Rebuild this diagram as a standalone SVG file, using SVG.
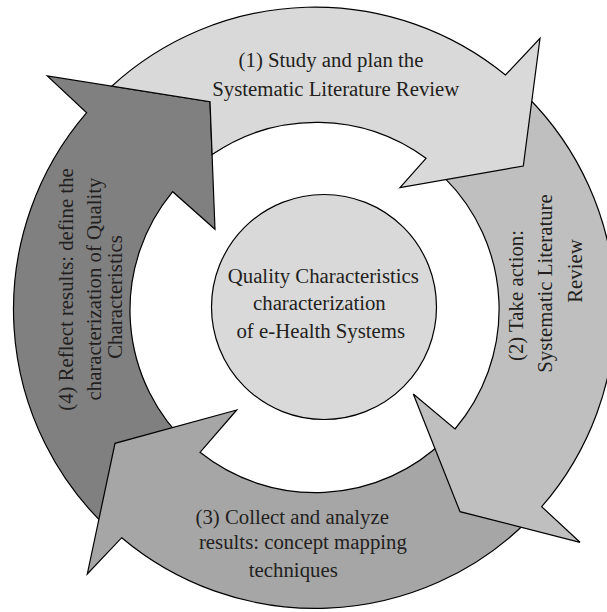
<svg xmlns="http://www.w3.org/2000/svg" width="607" height="612" viewBox="0 0 607 612">
<style>
.arrow{stroke:#000;stroke-width:1.2;stroke-linejoin:miter}
.t{font-family:"Liberation Serif","Times New Roman",serif;font-size:20.8px;fill:#231f20;text-anchor:middle}
</style>
<rect width="607" height="612" fill="#fff"/>
<g id="connectors">
<g id="arrow4">
<path class="arrow" fill="#808080" d="M112.6,532.7 A301,301 0 0,1 86.7,112.7 L47.3,76 L210,101.7 L215,229.3 L172.7,191.7 A185,185 0 0,0 190.2,446.5 Z"/>
<text class="t" transform="translate(72.5,289.5) rotate(-90)">(4) Reflect results: define the</text>
<text class="t" transform="translate(101,289) rotate(-90)">characterization of Quality</text>
<text class="t" transform="translate(121.5,297) rotate(-90)">Characteristics</text>
</g>
<g id="arrow3">
<path class="arrow" fill="#a6a6a6" d="M526.8,521.8 A301,301 0 0,1 121.7,537.7 L87.3,574 L115,443.3 L236.7,410 L200,452.3 A185,185 0 0,0 444.8,439.8 Z"/>
<text class="t" x="292.2" y="524">(3) Collect and analyze</text>
<text class="t" x="302.9" y="549.3">results: concept mapping</text>
<text class="t" x="293.3" y="577">techniques</text>
</g>
<g id="arrow2">
<path class="arrow" fill="#bfbfbf" d="M526.8,96.2 A301,301 0 0,1 541.7,506.7 L580,542.3 L460,511.7 L413.3,394 L455,429 A185,185 0 0,0 444.8,178.2 Z"/>
<text class="t" transform="translate(523.3,295.5) rotate(-90)">(2) Take action:</text>
<text class="t" transform="translate(552.3,283.5) rotate(-90)">Systematic Literature</text>
<text class="t" transform="translate(581.7,271) rotate(-90)">Review</text>
</g>
<g id="arrow1">
<path class="arrow" fill="#d9d9d9" d="M111.7,86.2 A301,301 0 0,1 505.5,75 L540,38.3 L523.3,166 L400,187.7 L426,158.3 A185,185 0 0,0 212.1,154.6 L210,101.7 Z"/>
<text class="t" x="331" y="67">(1) Study and plan the</text>
<text class="t" x="335.8" y="96">Systematic Literature Review</text>
</g>
</g>
<g id="center">
<circle class="arrow" fill="#d9d9d9" cx="324" cy="307" r="112.5"/>
<text class="t" x="323.3" y="282.7">Quality Characteristics</text>
<text class="t" x="319.4" y="310">characterization</text>
<text class="t" x="320.8" y="337.7">of e-Health Systems</text>
</g>
</svg>
